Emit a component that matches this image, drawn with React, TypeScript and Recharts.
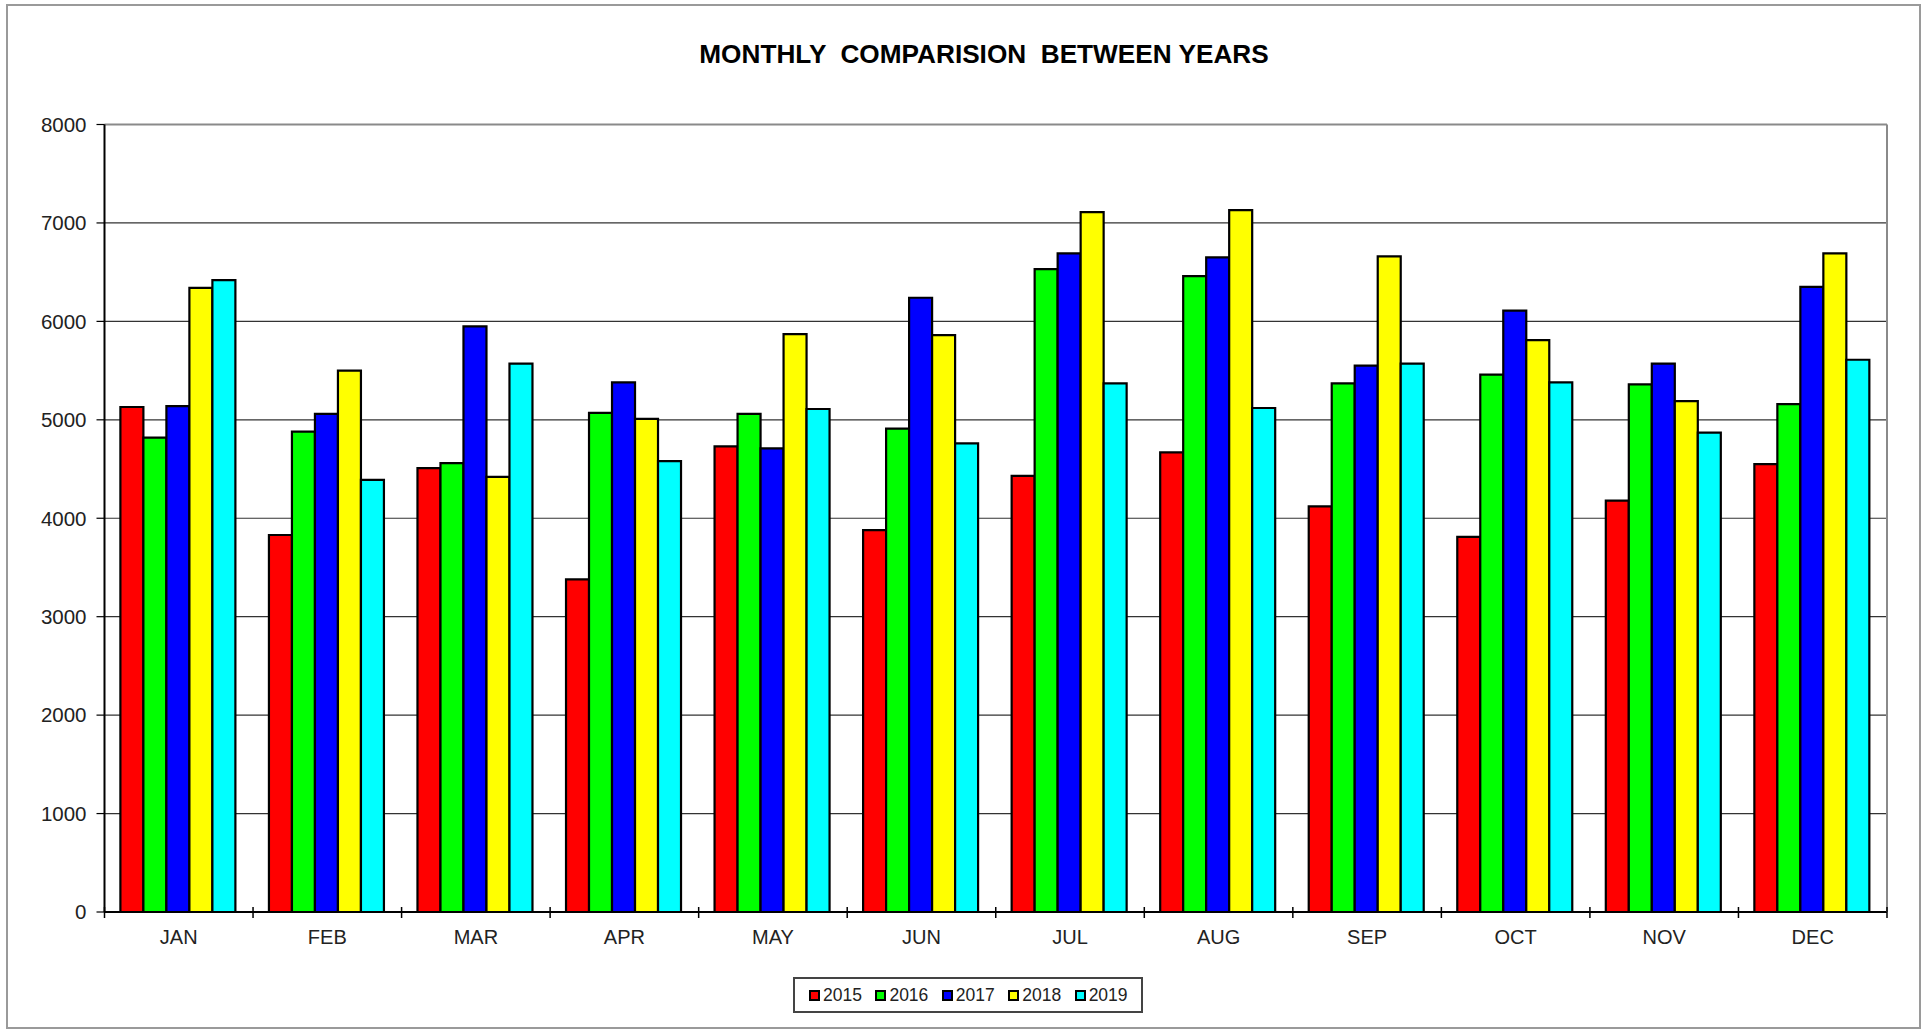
import React from 'react';
import { BarChart, Bar, XAxis, YAxis, CartesianGrid, ReferenceLine } from 'recharts';

const MONTHS = ['JAN', 'FEB', 'MAR', 'APR', 'MAY', 'JUN', 'JUL', 'AUG', 'SEP', 'OCT', 'NOV', 'DEC'];
const YEARS = ['2015', '2016', '2017', '2018', '2019'];
const COLORS = ['#ff0000', '#00ff00', '#0000ff', '#ffff00', '#00ffff'];

const Y2015 = [5130, 3830, 4510, 3380, 4730, 3880, 4430, 4670, 4120, 3810, 4180, 4550];
const Y2016 = [4820, 4880, 4560, 5070, 5060, 4910, 6530, 6460, 5370, 5460, 5360, 5160];
const Y2017 = [5140, 5060, 5950, 5380, 4710, 6240, 6690, 6650, 5550, 6110, 5570, 6350];
const Y2018 = [6340, 5500, 4420, 5010, 5870, 5860, 7110, 7130, 6660, 5810, 5190, 6690];
const Y2019 = [6420, 4390, 5570, 4580, 5110, 4760, 5370, 5120, 5570, 5380, 4870, 5610];

const Y_TICKS = [0, 1000, 2000, 3000, 4000, 5000, 6000, 7000, 8000];

const SERIES = [Y2015, Y2016, Y2017, Y2018, Y2019];

const data = MONTHS.map((m, i) => {
  const row: Record<string, string | number> = { month: m };
  YEARS.forEach((y, s) => {
    row[y] = SERIES[s][i];
  });
  return row;
});

const FONT = '"Liberation Sans", Arial, sans-serif';
const W = 1928;
const H = 1030;
const PLOT_LEFT = 104.5;
const PLOT_RIGHT = 1887;
const BAND = (PLOT_RIGHT - PLOT_LEFT) / MONTHS.length;

// category label plus the small boundary ticks between months
const MonthTick = (props: any) => {
  const { x, y, payload, index } = props;
  const left = x - BAND / 2;
  const right = x + BAND / 2;
  return (
    <g>
      <line x1={left} x2={left} y1={y - 5} y2={y + 6} stroke="#000" strokeWidth={1.5} />
      {index === MONTHS.length - 1 && (
        <line x1={right} x2={right} y1={y - 5} y2={y + 6} stroke="#000" strokeWidth={1.5} />
      )}
      <text x={x} y={y + 32} textAnchor="middle" fontSize={20} fontFamily={FONT} fill="#222">
        {payload.value}
      </text>
    </g>
  );
};

export default function App() {
  return (
    <div style={{ position: 'absolute', left: 0, top: 0, width: W, height: H, background: '#fff' }}>
      <div
        style={{
          position: 'absolute',
          left: 6,
          top: 4,
          width: 1915,
          height: 1025,
          boxSizing: 'border-box',
          border: '2px solid #9a9a9a',
        }}
      />
      <div
        style={{
          position: 'absolute',
          left: 584,
          top: 39,
          width: 800,
          textAlign: 'center',
          fontFamily: FONT,
          fontWeight: 'bold',
          fontSize: 26.2,
          lineHeight: '30px',
          whiteSpace: 'pre',
          color: '#000',
        }}
      >
        {'MONTHLY  COMPARISION  BETWEEN YEARS'}
      </div>
      <div style={{ position: 'absolute', left: 0, top: 0 }}>
        <BarChart
          width={W}
          height={H}
          data={data}
          margin={{ top: 124.5, right: 40, bottom: 58, left: 0 }}
          barCategoryGap="10.7%"
          barGap={0}
        >
          <CartesianGrid vertical={false} stroke="#333" strokeWidth={1.2} />
          <XAxis
            dataKey="month"
            height={60}
            axisLine={{ stroke: '#000', strokeWidth: 2 }}
            tickLine={false}
            tickSize={0}
            tickMargin={0}
            interval={0}
            tick={<MonthTick />}
          />
          <YAxis
            width={PLOT_LEFT}
            domain={[0, 8000]}
            ticks={Y_TICKS}
            interval={0}
            axisLine={{ stroke: '#000', strokeWidth: 2 }}
            tickLine={{ stroke: '#000', strokeWidth: 1.2 }}
            tickSize={8}
            tickMargin={10}
            tick={{ fontSize: 20.5, fontFamily: FONT, fill: '#222' }}
          />
          <YAxis
            yAxisId="r"
            orientation="right"
            width={1}
            domain={[0, 8000]}
            tick={false}
            tickLine={false}
            axisLine={{ stroke: '#8a8a8a', strokeWidth: 2 }}
          />
          <ReferenceLine y={8000} stroke="#8a8a8a" strokeWidth={2} />
          {YEARS.map((y, s) => (
            <Bar
              key={y}
              dataKey={y}
              fill={COLORS[s]}
              stroke="#000"
              strokeWidth={2.2}
              isAnimationActive={false}
            />
          ))}
        </BarChart>
      </div>
      <div
        style={{
          position: 'absolute',
          left: 793,
          top: 977,
          width: 350,
          height: 36,
          boxSizing: 'border-box',
          border: '2px solid #444',
          display: 'flex',
          alignItems: 'center',
          paddingLeft: 14,
          fontFamily: FONT,
          fontSize: 17.5,
          color: '#222',
        }}
      >
        {YEARS.map((y, s) => (
          <div key={y} style={{ display: 'flex', alignItems: 'center', width: 68.3 }}>
            <span
              style={{
                display: 'inline-block',
                width: 11,
                height: 11,
                boxSizing: 'border-box',
                border: '2px solid #000',
                background: COLORS[s],
                marginRight: 3,
              }}
            />
            <span>{y}</span>
          </div>
        ))}
      </div>
    </div>
  );
}
